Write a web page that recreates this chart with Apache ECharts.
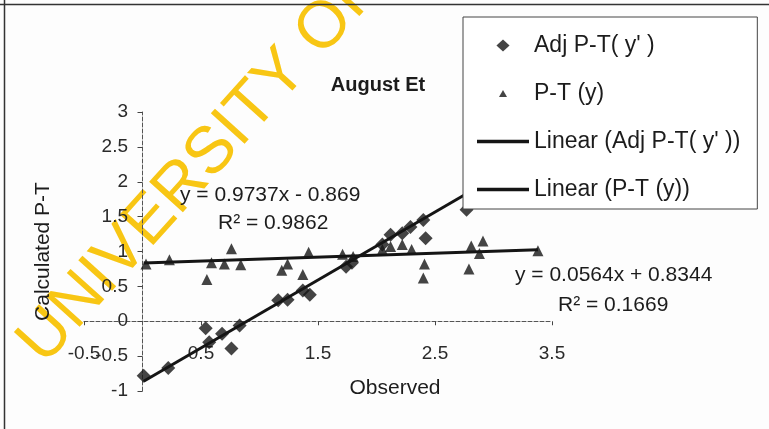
<!DOCTYPE html>
<html>
<head>
<meta charset="utf-8">
<script src="https://cdn.jsdelivr.net/npm/echarts@6/dist/echarts.min.js"></script>
<style>
  html, body { margin: 0; padding: 0; background: #fdfdfd; }
  #chart { width: 769px; height: 429px; }
</style>
</head>
<body>
<div id="chart"></div>
<script>
// August evapotranspiration: observed vs calculated (P-T and adjusted P-T)
const seriesNames = ["Adj P-T( y' )", "P-T (y)", "Linear (Adj P-T( y' ))", "Linear (P-T (y))"];

const adjObserved   = [0.01, 0.22, 0.54, 0.57, 0.68, 0.76, 0.83, 1.16, 1.24, 1.37, 1.43, 1.74, 1.79, 2.05, 2.12, 2.22, 2.29, 2.40, 2.42, 2.77];
const adjCalculated = [-0.78, -0.67, -0.10, -0.30, -0.18, -0.39, -0.06, 0.30, 0.31, 0.44, 0.38, 0.78, 0.84, 1.10, 1.24, 1.26, 1.35, 1.45, 1.19, 1.60];

const ptObserved   = [0.03, 0.23, 0.55, 0.59, 0.70, 0.76, 0.84, 1.19, 1.24, 1.37, 1.42, 1.71, 1.80, 2.05, 2.12, 2.22, 2.30, 2.40, 2.41, 2.79, 2.81, 2.88, 2.91, 3.38];
const ptCalculated = [0.82, 0.88, 0.60, 0.84, 0.82, 1.04, 0.81, 0.73, 0.82, 0.67, 0.99, 0.96, 0.93, 1.03, 1.07, 1.10, 1.03, 0.62, 0.82, 0.75, 1.08, 0.97, 1.15, 1.01];

// Least-squares trend lines [adjusted, plain]
const fitSlopes     = [0.9737, 0.0564];
const fitIntercepts = [-0.869, 0.8344];
const fitR2         = ["0.9862", "0.1669"];

// Axis ranges
const xRange = [-0.5, 3.5];   // tick labels -0.5, 0.5, 1.5, 2.5, 3.5
const yRange = [-1, 3];       // tick labels -1 ... 3 every 0.5
const xStep = 1;
const yStep = 0.5;

const FONT = '"Liberation Sans", Arial, sans-serif';
const INK = '#1c1c1c';

const zip = (xs, ys) => xs.map((x, i) => [x, ys[i]]);
const allObserved = adjObserved.concat(ptObserved);
const xLo = Math.min(...allObserved);
const xHi = Math.max(...allObserved);
const trend = k => [[xLo, fitSlopes[k] * xLo + fitIntercepts[k]], [xHi, fitSlopes[k] * xHi + fitIntercepts[k]]];

const eqText = k => {
  const b = fitIntercepts[k];
  return 'y = ' + fitSlopes[k] + 'x ' + (b < 0 ? '- ' : '+ ') + Math.abs(b);
};

const chart = echarts.init(document.getElementById('chart'));

const axisLineStyle = { color: '#555', width: 1, type: [4, 2] };
const lineIcon = 'path://M0,0L52,0L52,3.5L0,3.5Z';

chart.setOption({
  backgroundColor: '#fdfdfd',
  animation: false,
  textStyle: { fontFamily: FONT },
  title: {
    text: 'August Et',
    left: 373,
    top: 70,
    textAlign: 'center',
    textStyle: { fontSize: 20, fontWeight: 'bold', color: INK, fontFamily: FONT }
  },
  grid: { left: 84, right: 217, top: 112, bottom: 38, containLabel: false, outerBoundsMode: 'none' },
  xAxis: {
    type: 'value',
    min: xRange[0], max: xRange[1], interval: xStep,
    name: 'Observed',
    nameLocation: 'middle',
    nameGap: -13,
    nameTextStyle: { fontSize: 21, color: INK, fontFamily: FONT, padding: [0, 0, 0, 154] },
    axisLine: { onZero: true, lineStyle: axisLineStyle },
    axisTick: { show: true, length: 4, lineStyle: { color: '#444' } },
    // labels sit just under the zero line, inside the plot
    axisLabel: { inside: true, fontSize: 19, color: '#2a2a2a', margin: 28, fontFamily: FONT },
    splitLine: { show: false }
  },
  yAxis: {
    type: 'value',
    min: yRange[0], max: yRange[1], interval: yStep,
    name: 'Calculated P-T',
    nameLocation: 'middle',
    nameGap: 30,
    nameTextStyle: { fontSize: 21, color: INK, fontFamily: FONT },
    axisLine: { onZero: true, lineStyle: axisLineStyle },
    axisTick: { show: true, length: 5, lineStyle: { color: '#444' } },
    // labels hug the vertical axis at x = 0
    axisLabel: { fontSize: 19, color: '#2a2a2a', margin: -44, fontFamily: FONT },
    splitLine: { show: false }
  },
  legend: {
    orient: 'vertical',
    left: 463,
    top: 17,
    padding: [17, 17, 8, 14],
    itemGap: 25,
    itemWidth: 52,
    itemHeight: 12,
    backgroundColor: '#ffffff',
    borderColor: '#444',
    borderWidth: 1,
    textStyle: { fontSize: 23, color: INK, fontFamily: FONT },
    data: [
      { name: seriesNames[0], icon: 'path://M6,0L12,5.5L6,11L0,5.5Z' },
      { name: seriesNames[1], icon: 'path://M0,0M12,12M6,2.5L10,9.5L2,9.5Z' },
      { name: seriesNames[2], icon: lineIcon },
      { name: seriesNames[3], icon: lineIcon }
    ]
  },
  series: [
    {
      name: seriesNames[0],
      type: 'scatter',
      symbol: 'diamond',
      symbolSize: 14,
      itemStyle: { color: '#151515' },
      data: zip(adjObserved, adjCalculated),
      z: 3
    },
    {
      name: seriesNames[1],
      type: 'scatter',
      symbol: 'triangle',
      symbolSize: 11,
      itemStyle: { color: '#151515' },
      data: zip(ptObserved, ptCalculated),
      z: 3
    },
    {
      name: seriesNames[2],
      type: 'line',
      symbol: 'none',
      lineStyle: { color: '#151515', width: 3 },
      itemStyle: { color: '#151515' },
      data: trend(0),
      z: 2
    },
    {
      name: seriesNames[3],
      type: 'line',
      symbol: 'none',
      lineStyle: { color: '#151515', width: 3 },
      itemStyle: { color: '#151515' },
      data: trend(1),
      z: 2
    }
  ],
  graphic: [
    // outer frame edges
    { type: 'line', shape: { x1: 4.5, y1: 0, x2: 4.5, y2: 429 }, style: { stroke: '#333', lineWidth: 1.5 }, z: 1 },
    { type: 'line', shape: { x1: 0, y1: 4.5, x2: 769, y2: 4.5 }, style: { stroke: '#333', lineWidth: 1.5 }, z: 1 },
    // diagonal watermark
    {
      type: 'text', x: 200, y: 166, rotation: 48 * Math.PI / 180, z: -5,
      style: { text: 'UNIVERSITY OF', font: '66px ' + FONT, fill: '#f8c614', align: 'center', verticalAlign: 'middle' }
    },
    // trend equations
    {
      type: 'text', x: 180, y: 195, z: 10,
      style: { text: eqText(0), font: '21px ' + FONT, fill: INK, verticalAlign: 'middle' }
    },
    {
      type: 'text', x: 218, y: 223, z: 10,
      style: { text: 'R\u00b2 = ' + fitR2[0], font: '21px ' + FONT, fill: INK, verticalAlign: 'middle' }
    },
    {
      type: 'text', x: 515, y: 275, z: 10,
      style: { text: eqText(1), font: '21px ' + FONT, fill: INK, verticalAlign: 'middle' }
    },
    {
      type: 'text', x: 558, y: 305, z: 10,
      style: { text: 'R\u00b2 = ' + fitR2[1], font: '21px ' + FONT, fill: INK, verticalAlign: 'middle' }
    }
  ]
});
</script>
</body>
</html>
